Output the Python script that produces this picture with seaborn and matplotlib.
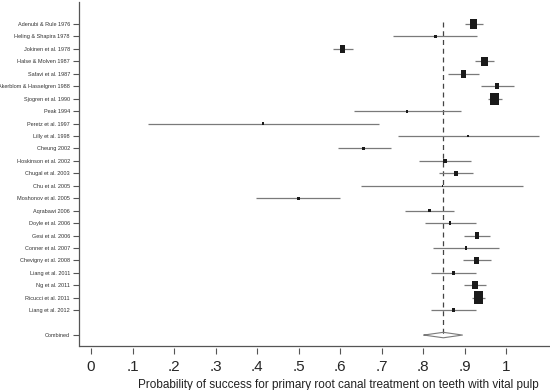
import numpy as np
import pandas as pd
import matplotlib
matplotlib.use("Agg")
import matplotlib.pyplot as plt
import seaborn as sns

studies = ["Adenubi & Rule 1976", "Heling & Shapira 1978", "Jokinen et al. 1978",
           "Halse & Molven 1987", "Safavi et al. 1987", "Akerblom & Hasselgren 1988",
           "Sjogren et al. 1990", "Peak 1994", "Peretz et al. 1997", "Lilly et al. 1998",
           "Cheung 2002", "Hoskinson et al. 2002", "Chugal et al. 2003", "Chu et al. 2005",
           "Moshonov et al. 2005", "Aqrabawi 2006", "Doyle et al. 2006", "Gesi et al. 2006",
           "Conner et al. 2007", "Chevigny et al. 2008", "Liang et al. 2011", "Ng et al. 2011",
           "Ricucci et al. 2011", "Liang et al. 2012"]
estimate = [0.921, 0.830, 0.606, 0.948, 0.898, 0.979, 0.972, 0.761, 0.415, 0.908,
            0.656, 0.853, 0.880, 0.847, 0.500, 0.815, 0.865, 0.930, 0.904, 0.929,
            0.874, 0.925, 0.933, 0.874]
ci_low = [0.900, 0.728, 0.584, 0.925, 0.861, 0.939, 0.957, 0.634, 0.137, 0.739,
          0.594, 0.791, 0.839, 0.650, 0.398, 0.757, 0.805, 0.898, 0.824, 0.896,
          0.820, 0.899, 0.917, 0.820]
ci_high = [0.944, 0.931, 0.631, 0.971, 0.934, 1.019, 0.990, 0.891, 0.695, 1.079,
           0.722, 0.916, 0.920, 1.042, 0.600, 0.874, 0.927, 0.961, 0.984, 0.964,
           0.928, 0.951, 0.949, 0.928]
weights = [81, 6, 64, 81, 53, 32, 137, 4, 1, 1, 9, 16, 25, 1, 6, 9, 9, 36, 9, 36,
           12, 59, 161, 12]
combined_label = "Combined"
combined = [0.802, 0.849, 0.895]
xticks = [0, 0.1, 0.2, 0.3, 0.4, 0.5, 0.6, 0.7, 0.8, 0.9, 1.0]
xticklabels = ["0", ".1", ".2", ".3", ".4", ".5", ".6", ".7", ".8", ".9", "1"]

df = pd.DataFrame({"study": studies, "est": estimate, "lo": ci_low, "hi": ci_high,
                   "w": weights})
df["row"] = np.arange(len(df))
comb_row = len(df) + 1

sns.set_theme(style="white")
plt.rcParams["font.family"] = ["Liberation Sans", "DejaVu Sans"]

fig = plt.figure(figsize=(5.5, 3.9), dpi=100)
ax = fig.add_axes([79 / 550, 1 - 346 / 390, 1 - 79 / 550, 344 / 390])

ax.hlines(df["row"], df["lo"], df["hi"], color="#7a7a7a", lw=0.9, zorder=1)
box = [(-0.72, -1), (0.72, -1), (0.72, 1), (-0.72, 1), (-0.72, -1)]
sns.scatterplot(data=df, x="est", y="row", size="w", sizes=(2.5, 84), marker=box,
                color="#1a1a1a", edgecolor="none", legend=False, ax=ax, zorder=3)

lo, mid, hi = combined
ax.plot([lo, mid, hi, mid, lo], [comb_row, comb_row - 0.22, comb_row, comb_row + 0.22, comb_row],
        color="#7a7a7a", lw=0.8, zorder=2)
ax.plot([mid, mid], [-0.2, comb_row], color="#444444", lw=0.9, ls=(0, (4, 3)), zorder=0)

ylim_bottom = comb_row + 0.88
ax.set_ylim(ylim_bottom, -1.77)
ax.set_xlim(-0.029, 1.106)

ax.set_yticks(list(df["row"]) + [comb_row])
ax.set_yticklabels(studies + [combined_label], fontsize=4, color="#333333")
ax.set_xticks(xticks)
ax.set_xticklabels(xticklabels, fontsize=7, color="#222222")
ax.set_xlabel("Probability of success for primary root canal treatment on teeth with vital pulp",
              fontsize=8.5, color="#222222")
ax.xaxis.set_label_coords(0.55, -0.095)
ax.set_ylabel("")

for s in ["top", "right"]:
    ax.spines[s].set_visible(False)
ax.spines["left"].set_color("#555555")
ax.spines["left"].set_linewidth(0.9)
ax.spines["bottom"].set_position(("outward", 1.5))
ax.spines["bottom"].set_color("none")
ax.axhline(ylim_bottom, color="#555555", lw=0.9, clip_on=False)
ax.tick_params(axis="y", left=True, length=4.5, width=0.8, color="#555555", pad=2)
ax.tick_params(axis="x", bottom=True, length=4, width=0.8, color="#555555", pad=4.5)

fig.savefig("out.png", dpi=100)
